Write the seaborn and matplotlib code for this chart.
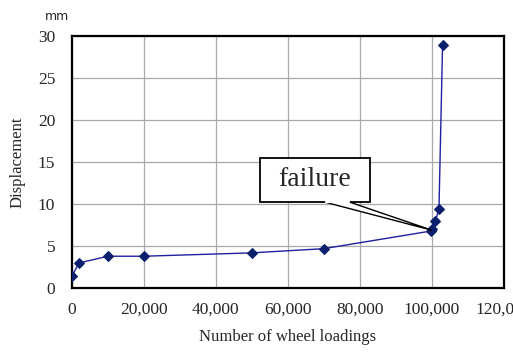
import matplotlib
matplotlib.use("Agg")
import matplotlib.pyplot as plt
import seaborn as sns
import pandas as pd
from matplotlib.patches import Rectangle, Polygon
from matplotlib.ticker import FuncFormatter

# wheel loadings vs displacement (mm)
loadings = [0, 2000, 10000, 20000, 50000, 70000, 99800, 100100, 101000, 102000, 103000]
displacement = [1.4, 3.0, 3.8, 3.8, 4.2, 4.7, 6.8, 7.0, 8.0, 9.4, 29.0]

df = pd.DataFrame({"loadings": loadings, "displacement": displacement})

sns.set_style("white")
plt.rcParams['font.family'] = ['Liberation Serif', 'DejaVu Serif']

fig = plt.figure(figsize=(5.13, 3.54), dpi=100)
ax = fig.add_axes([0.140, 0.186, 0.842, 0.712])

sns.lineplot(data=df, x="loadings", y="displacement", ax=ax, color="#1f1fa0",
             linewidth=1.0, marker="D", markersize=5, markerfacecolor="#0a1f6e",
             markeredgecolor="#0a1f6e", sort=False, zorder=3)

ax.set_xlim(0, 120000)
ax.set_ylim(0, 30)
ax.set_xticks(range(0, 120001, 20000))
ax.set_yticks(range(0, 31, 5))
ax.xaxis.set_major_formatter(FuncFormatter(lambda v, p: f"{int(v):,}"))
ax.grid(True, color="#a8a8a8", linewidth=0.9)
for s in ax.spines.values():
    s.set_color("black")
    s.set_linewidth(1.6)
ax.tick_params(axis="both", labelsize=12.5, length=4, direction="in", color="black")
ax.tick_params(axis="x", pad=10)
ax.tick_params(axis="y", pad=12)
ax.set_xlabel("Number of wheel loadings", fontsize=12, labelpad=8)
ax.set_ylabel("Displacement", fontsize=12, labelpad=9)

fig.text(0.112, 0.952, "mm", fontsize=9, family=["DejaVu Sans"], ha="center", va="center")

# callout: box with a wedge from its bottom edge to the failure point
ax.add_patch(Polygon([(70300, 10.24), (77200, 10.24), (100000, 6.9)], closed=True,
                     fc="white", ec="black", lw=1.0, zorder=4))
ax.add_patch(Rectangle((52200, 10.24), 30600, 5.26, fc="white", ec="black", lw=1.3, zorder=5))
ax.plot([70600, 76900], [10.24, 10.24], color="white", lw=1.6, zorder=6)
ax.text(67500, 12.9, "failure", fontsize=20, ha="center", va="center", zorder=7)

fig.savefig("out.png", dpi=100)
